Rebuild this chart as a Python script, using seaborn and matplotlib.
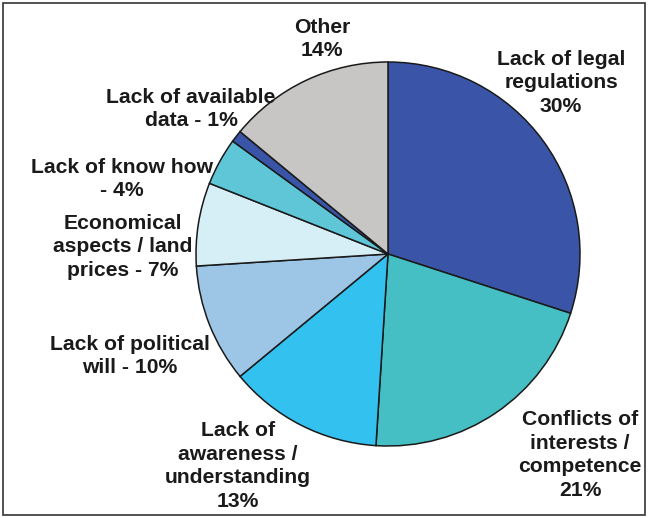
import matplotlib
matplotlib.use("Agg")
import matplotlib.pyplot as plt
import seaborn as sns
from matplotlib.patches import Rectangle

sns.set_theme(style="white")
plt.rcParams['font.family'] = ['Liberation Sans', 'DejaVu Sans']

categories = ["Lack of legal\nregulations\n30%",
              "Conflicts of\ninterests /\ncompetence\n21%",
              "Lack of\nawareness /\nunderstanding\n13%",
              "Lack of political\nwill - 10%",
              "Economical\naspects / land\nprices - 7%",
              "Lack of know how\n- 4%",
              "Lack of available\ndata - 1%",
              "Other\n14%"]
values = [30, 21, 13, 10, 7, 4, 1, 14]
colors = ["#3a55a8", "#45bec4", "#33c1ef", "#9dc6e6", "#d6eef6", "#5ec6d6", "#3a55a8", "#c8c6c4"]

W, H = 650, 518
fig = plt.figure(figsize=(6.5, 5.18), dpi=100)
ax = fig.add_axes([0, 0, 1, 1])

ax.pie(values, colors=colors, startangle=90, counterclock=False,
       center=(388, H - 254), radius=192, frame=True,
       wedgeprops=dict(edgecolor="#1a1a1a", linewidth=1.1))
ax.set_xlim(0, W)
ax.set_ylim(0, H)
ax.axis("off")

# label positions (pixel coords, top-left origin)
label_pos = [(561, 83), (580, 455), (238, 466), (130, 356),
             (123, 247), (122, 179), (191, 109), (322, 39)]
for lab, (x, y) in zip(categories, label_pos):
    ax.text(x, H - y, lab, ha="center", va="center", fontsize=15.2,
            fontweight="bold", color="#1a1a1a", linespacing=1.33)

fig.patches.append(Rectangle((0.005, 0.006), 0.988, 0.988, transform=fig.transFigure,
                             fill=False, edgecolor="#333333", linewidth=1.2))

fig.savefig("out.png", dpi=100)
